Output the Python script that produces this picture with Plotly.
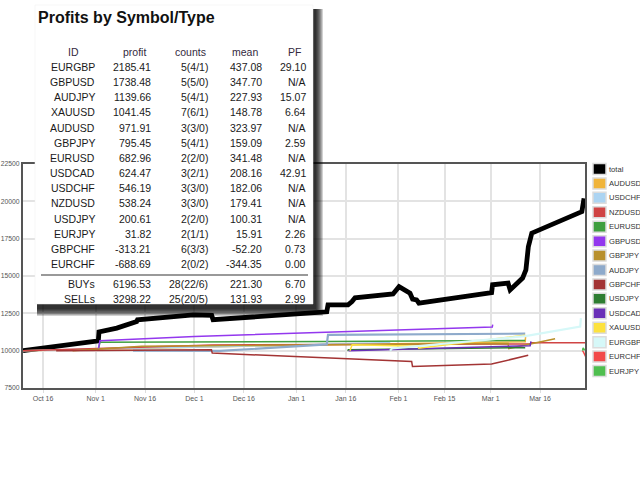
import plotly.graph_objects as go

# balance curves per symbol
total_x = ["2016-10-09 22:00", "2016-11-01 19:00", "2016-11-02 00:00", "2016-11-07 10:00",
           "2016-11-13 11:00", "2016-11-13 17:00", "2016-11-30 16:00", "2016-12-06 06:00",
           "2016-12-06 16:00", "2017-01-10 05:00", "2017-01-10 14:00", "2017-01-16 16:00",
           "2017-01-17 21:00", "2017-01-18 19:00", "2017-01-30 08:00", "2017-02-01 04:00",
           "2017-02-04 12:00", "2017-02-05 07:00", "2017-02-06 12:00", "2017-02-07 05:00",
           "2017-03-01 07:00", "2017-03-01 14:00", "2017-03-06 07:00", "2017-03-06 22:00",
           "2017-03-10 17:00", "2017-03-11 17:00", "2017-03-12 11:00", "2017-03-13 12:00",
           "2017-03-28 17:00", "2017-03-29 09:00"]
total_y = [10000, 10650, 11250, 11510, 11950, 12070, 12400, 12360, 12070, 12600, 13070, 13070,
           13290, 13540, 13800, 14290, 13850, 13450, 13400, 13180, 13890, 14410, 14520, 14070,
           14860, 15410, 16970, 17870, 19310, 20200]

audusd_x = ["2016-10-09 22:00", "2016-11-13 12:00", "2017-01-10 12:00", "2017-03-11 12:00", "2017-03-11 15:00"]
audusd_y = [10000, 10150, 10400, 10600, 10972]

usdchf_x = ["2016-10-09 22:00", "2016-11-01 18:00", "2016-12-08 12:00", "2017-01-29 12:00"]
usdchf_y = [10000, 10120, 10260, 10546]

nzdusd_x = ["2016-10-09 22:00", "2016-12-06 12:00", "2017-03-13 00:00", "2017-03-13 06:00", "2017-04-05 00:00"]
nzdusd_y = [10000, 10380, 10450, 10538, 10538]

eurusd_x = ["2016-11-01 18:00", "2016-11-02 07:00", "2017-01-10 12:00", "2017-03-11 12:00"]
eurusd_y = [10000, 10560, 10620, 10683]

gbpusd_x = ["2016-11-01 17:00", "2016-11-02 07:00", "2016-12-01 00:00", "2017-01-05 00:00",
            "2017-03-01 12:00", "2017-03-01 15:00"]
gbpusd_y = [10000, 10660, 10950, 11200, 11580, 11738]

gbpjpy_x = ["2016-10-25 00:00", "2016-11-15 00:00", "2017-03-06 07:00", "2017-03-06 12:00", "2017-03-20 14:00"]
gbpjpy_y = [10000, 10300, 10480, 10140, 10795]

audjpy_x = ["2016-11-12 08:00", "2016-12-08 18:00", "2017-01-10 05:00", "2017-01-10 14:00", "2017-03-11 12:00"]
audjpy_y = [10000, 9980, 10420, 11060, 11140]

gbpchf_x = ["2016-10-20 00:00", "2016-12-06 04:00", "2016-12-06 10:00", "2017-01-08 00:00",
            "2017-02-05 00:00", "2017-02-05 06:00", "2017-03-01 07:00", "2017-03-12 10:00"]
gbpchf_y = [10000, 10060, 9840, 9560, 9280, 8945, 9105, 9687]

usdjpy_x = ["2017-01-16 12:00", "2017-01-16 20:00", "2017-03-11 12:00"]
usdjpy_y = [10000, 10060, 10201]

usdcad_x = ["2017-01-16 20:00", "2017-03-13 00:00", "2017-03-13 06:00"]
usdcad_y = [10000, 10330, 10624]

xauusd_x = ["2017-01-17 06:00", "2017-01-17 22:00", "2017-02-06 22:00", "2017-02-07 04:00", "2017-03-11 12:00"]
xauusd_y = [10000, 10390, 10300, 10160, 11041]

eurgbp_x = ["2017-01-29 10:00", "2017-01-30 00:00", "2017-03-11 12:00", "2017-03-28 05:00", "2017-03-28 10:00"]
eurgbp_y = [10000, 10150, 10970, 11610, 12185]

eurchf_x = ["2017-03-28 22:00", "2017-03-29 05:00", "2017-03-30 12:00"]
eurchf_y = [10000, 9900, 9311]

eurjpy_x = ["2017-03-28 22:00", "2017-03-29 02:00", "2017-03-29 14:00"]
eurjpy_y = [10000, 10180, 10032]

legend_names = ["total", "AUDUSD", "USDCHF", "NZDUSD", "EURUSD", "GBPUSD", "GBPJPY", "AUDJPY",
                "GBPCHF", "USDJPY", "USDCAD", "XAUUSD", "EURGBP", "EURCHF", "EURJPY"]
line_colors = ["#000000", "#f0b43a", "#acd4f2", "#d04444", "#3f9f3f", "#9338ee", "#b8902c", "#8eaacb",
               "#a33434", "#2e7d32", "#6a30b8", "#fde23e", "#d6f8f8", "#f24a4a", "#4fbf4f"]

# table values
table_ids = ["EURGBP", "GBPUSD", "AUDJPY", "XAUUSD", "AUDUSD", "GBPJPY", "EURUSD",
             "USDCAD", "USDCHF", "NZDUSD", "USDJPY", "EURJPY", "GBPCHF", "EURCHF"]
table_profit = [2185.41, 1738.48, 1139.66, 1041.45, 971.91, 795.45, 682.96,
                624.47, 546.19, 538.24, 200.61, 31.82, -313.21, -688.69]
table_counts = ["5(4/1)", "5(5/0)", "5(4/1)", "7(6/1)", "3(3/0)", "5(4/1)", "2(2/0)",
                "3(2/1)", "3(3/0)", "3(3/0)", "2(2/0)", "2(1/1)", "6(3/3)", "2(0/2)"]
table_mean = [437.08, 347.70, 227.93, 148.78, 323.97, 159.09, 341.48,
              208.16, 182.06, 179.41, 100.31, 15.91, -52.20, -344.35]
table_pf = [29.10, None, 15.07, 6.64, None, 2.59, None,
            42.91, None, None, None, 2.26, 0.73, 0.00]
type_ids = ["BUYs", "SELLs"]
type_profit = [6196.53, 3298.22]
type_counts = ["28(22/6)", "25(20/5)"]
type_mean = [221.30, 131.93]
type_pf = [6.70, 2.99]
table_headers = ["ID", "profit", "counts", "mean", "PF"]

y_ticks = [7500, 10000, 12500, 15000, 17500, 20000, 22500]
x_tickvals = ["2016-10-16", "2016-11-01", "2016-11-16", "2016-12-01", "2016-12-16", "2017-01-01",
              "2017-01-16", "2017-02-01", "2017-02-15", "2017-03-01", "2017-03-16"]
x_ticktext = ["Oct 16", "Nov 1", "Nov 16", "Dec 1", "Dec 16", "Jan 1",
              "Jan 16", "Feb 1", "Feb 15", "Mar 1", "Mar 16"]

series_x = [total_x, audusd_x, usdchf_x, nzdusd_x, eurusd_x, gbpusd_x, gbpjpy_x, audjpy_x,
            gbpchf_x, usdjpy_x, usdcad_x, xauusd_x, eurgbp_x, eurchf_x, eurjpy_x]
series_y = [total_y, audusd_y, usdchf_y, nzdusd_y, eurusd_y, gbpusd_y, gbpjpy_y, audjpy_y,
            gbpchf_y, usdjpy_y, usdcad_y, xauusd_y, eurgbp_y, eurchf_y, eurjpy_y]

# plot area in pixels
ML, MR, MT, MB = 23, 55, 164, 92
PW = 640 - ML - MR
PH = 480 - MT - MB


def px(x):
    return (x - ML) / PW


def py(y):
    return (480 - MB - y) / PH


FONT = "Liberation Sans, Arial, sans-serif"

fig = go.Figure()
for name, xs, ys, col in zip(legend_names, series_x, series_y, line_colors):
    w = 1.5
    if name == "total":
        w = 4.8
    elif name in ("AUDJPY", "EURGBP"):
        w = 2.2
    fig.add_trace(go.Scatter(x=xs, y=ys, mode="lines", name=name,
                             line=dict(color=col, width=w), hoverinfo="skip"))

shapes = []
annotations = []

# drop shadow of the table box
for k in range(8):
    shapes.append(dict(type="rect", xref="paper", yref="paper", layer="above",
                       x0=px(37), x1=px(316 + k), y0=py(9), y1=py(309 + k),
                       fillcolor="rgba(0,0,0,0.18)", line=dict(width=0)))
# table box
shapes.append(dict(type="rect", xref="paper", yref="paper", layer="above",
                   x0=px(35), x1=px(313), y0=py(5), y1=py(304),
                   fillcolor="white", line=dict(color="#eeeeee", width=0.5)))
shapes.append(dict(type="line", xref="paper", yref="paper", layer="above",
                   x0=px(41), x1=px(308), y0=py(275), y1=py(275),
                   line=dict(color="#777777", width=1.5)))

annotations.append(dict(text="<b>Profits by Symbol/Type</b>", xref="paper", yref="paper",
                        x=px(36), y=py(17), xanchor="left", yanchor="middle", showarrow=False,
                        font=dict(family=FONT, size=16, color="#111111")))

head_x = [73, 134, 190, 245, 294]
for h, hx in zip(table_headers, head_x):
    annotations.append(dict(text=h, xref="paper", yref="paper", x=px(hx), y=py(52),
                            xanchor="center", yanchor="middle", showarrow=False,
                            font=dict(family=FONT, size=10.5, color="#332a40")))


def fmt(v):
    return "N/A" if v is None else f"{v:.2f}"


col_right = [97, 153, 210, 264, 308]


def add_row(cells, y):
    for c, cx in zip(cells, col_right):
        annotations.append(dict(text=c, xref="paper", yref="paper", x=px(cx), y=py(y),
                                xanchor="right", yanchor="middle", showarrow=False,
                                font=dict(family=FONT, size=10.5, color="#1a1a1a")))


for i in range(len(table_ids)):
    add_row([table_ids[i], fmt(table_profit[i]), table_counts[i], fmt(table_mean[i]), fmt(table_pf[i])],
            67 + 15.15 * i)
for i in range(len(type_ids)):
    add_row([type_ids[i], fmt(type_profit[i]), type_counts[i], fmt(type_mean[i]), fmt(type_pf[i])],
            284 + 15 * i)

# legend on the right
for i, (name, col) in enumerate(zip(legend_names, line_colors)):
    cy = 169 + 14.43 * i
    shapes.append(dict(type="rect", xref="paper", yref="paper", layer="above",
                       x0=px(593), x1=px(606), y0=py(cy - 5.5), y1=py(cy + 5.5),
                       fillcolor=col, line=dict(color="#dcdcdc", width=1.5)))
    annotations.append(dict(text=name, xref="paper", yref="paper", x=px(606.5), y=py(cy),
                            xanchor="left", yanchor="middle", showarrow=False,
                            font=dict(family=FONT, size=7.6, color="#333333")))

fig.update_layout(
    width=640, height=480,
    margin=dict(l=ML, r=MR, t=MT, b=MB, autoexpand=False),
    paper_bgcolor="white", plot_bgcolor="white",
    showlegend=False,
    shapes=shapes, annotations=annotations,
    xaxis=dict(type="date", range=["2016-10-09 22:00", "2017-03-29 16:00"],
               tickvals=x_tickvals, ticktext=x_ticktext,
               tickfont=dict(family=FONT, size=7, color="#555555"),
               showgrid=True, gridcolor="#e3e3e3", gridwidth=1.5,
               ticks="outside", ticklen=3, tickcolor="#dddddd",
               showline=True, mirror=True, linecolor="#555555", linewidth=2,
               zeroline=False),
    yaxis=dict(range=[7500, 22500], tickvals=y_ticks, tickformat="d",
               tickfont=dict(family=FONT, size=6.8, color="#555555"),
               showgrid=True, gridcolor="#e3e3e3", gridwidth=1.5,
               ticks="",
               showline=True, mirror=True, linecolor="#555555", linewidth=2,
               zeroline=False),
)

# no page margin, so the figure sits at the window corner
fig.write_html("out.html", config={"displayModeBar": False},
               post_script="document.body.style.margin = '0px';")
